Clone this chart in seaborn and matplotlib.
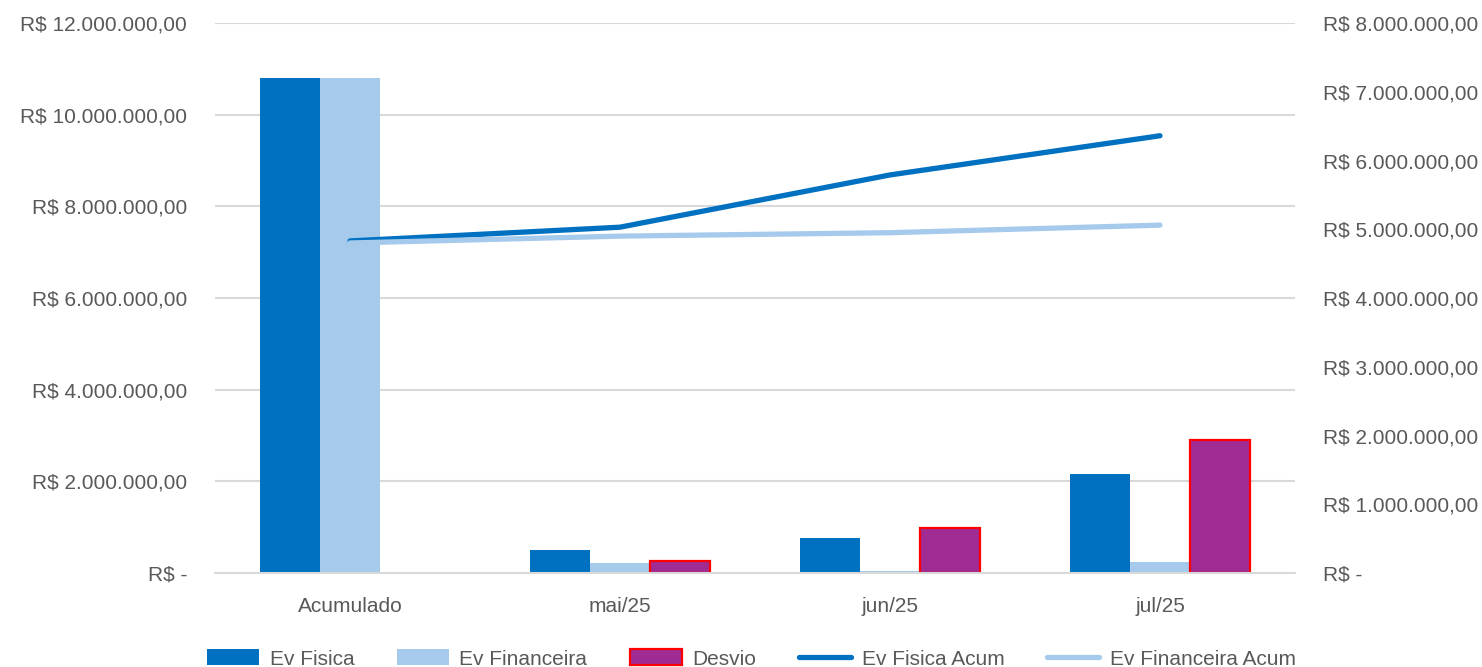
import matplotlib
matplotlib.use('Agg')
import matplotlib.pyplot as plt
from matplotlib.ticker import FuncFormatter, MultipleLocator
import numpy as np
import pandas as pd
import seaborn as sns

# data
categorias = ['Acumulado', 'mai/25', 'jun/25', 'jul/25']
ev_fisica = [10800000, 500000, 760000, 2160000]
ev_financeira = [10800000, 220000, 50000, 240000]
desvio = [np.nan, 260000, 980000, 2900000]
ev_fisica_acum = [4830000, 5030000, 5790000, 6360000]
ev_financeira_acum = [4800000, 4900000, 4950000, 5060000]

AZUL = '#0070C0'
AZUL_CLARO = '#A6CAEC'
ROXO = '#A02B93'
CINZA = '#595959'
GRADE = '#D9D9D9'
FS = 15

sns.set_theme(style='white')
plt.rcParams['font.family'] = ['Liberation Sans', 'DejaVu Sans']


def reais(v, pos=None):
    if abs(v) < 1e-6:
        return 'R$ -'
    s = f'{v:,.2f}'
    s = s.replace(',', 'X').replace('.', ',').replace('X', '.')
    return 'R$ ' + s


df = pd.DataFrame({
    'cat': categorias * 3,
    'valor': ev_fisica + ev_financeira + desvio,
    'serie': ['Ev Fisica'] * 4 + ['Ev Financeira'] * 4 + ['Desvio'] * 4,
})

fig = plt.figure(figsize=(14.82, 6.67), dpi=100)
ax = fig.add_axes([215 / 1482, 1 - 573 / 667, 1080 / 1482, 550 / 667])

sns.barplot(data=df, x='cat', y='valor', hue='serie',
            palette=[AZUL, AZUL_CLARO, ROXO], width=2 / 3, gap=0,
            saturation=1, linewidth=0, ax=ax, legend=False)
for p in ax.containers[2]:
    p.set_edgecolor('#FF0000')
    p.set_linewidth(1.6)

ax.set_xlim(-0.5, 3.5)
ax.set_ylim(0, 12000000)
ax.yaxis.set_major_locator(MultipleLocator(2000000))
ax.yaxis.set_major_formatter(FuncFormatter(reais))
ax.grid(axis='y', color=GRADE, linewidth=1.5)
ax.set_axisbelow(True)
for s in ['top', 'right', 'left']:
    ax.spines[s].set_visible(False)
ax.spines['bottom'].set_color(GRADE)
ax.spines['bottom'].set_linewidth(1.5)
ax.set_xlabel('')
ax.set_ylabel('')
ax.tick_params(axis='both', length=0, labelsize=FS, colors=CINZA)
ax.tick_params(axis='y', pad=20)
ax.tick_params(axis='x', pad=17)

ax2 = ax.twinx()
xs = np.arange(len(categorias))
sns.lineplot(x=xs, y=ev_fisica_acum, color=AZUL, linewidth=3.8,
             solid_capstyle='round', ax=ax2)
sns.lineplot(x=xs, y=ev_financeira_acum, color=AZUL_CLARO, linewidth=3.8,
             solid_capstyle='round', ax=ax2)
ax2.set_ylim(0, 8000000)
ax2.yaxis.set_major_locator(MultipleLocator(1000000))
ax2.yaxis.set_major_formatter(FuncFormatter(reais))
for s in ax2.spines.values():
    s.set_visible(False)
ax2.tick_params(axis='y', length=0, labelsize=FS, colors=CINZA, pad=20)
ax2.grid(False)

handles = [
    plt.Rectangle((0, 0), 1, 1, facecolor=AZUL, edgecolor='none'),
    plt.Rectangle((0, 0), 1, 1, facecolor=AZUL_CLARO, edgecolor='none'),
    plt.Rectangle((0, 0), 1, 1, facecolor=ROXO, edgecolor='#FF0000', linewidth=1.6),
    plt.Line2D([], [], color=AZUL, linewidth=3.8, solid_capstyle='round'),
    plt.Line2D([], [], color=AZUL_CLARO, linewidth=3.8, solid_capstyle='round'),
]
labels = ['Ev Fisica', 'Ev Financeira', 'Desvio', 'Ev Fisica Acum', 'Ev Financeira Acum']
leg = fig.legend(handles, labels, loc='center', bbox_to_anchor=(0.507, 1 - 659 / 667),
                 ncol=5, frameon=False, fontsize=FS, handlelength=2.5,
                 handleheight=0.8, handletextpad=0.5, columnspacing=2.05)
for t in leg.get_texts():
    t.set_color(CINZA)

fig.savefig('out.png', dpi=100, facecolor='white')
